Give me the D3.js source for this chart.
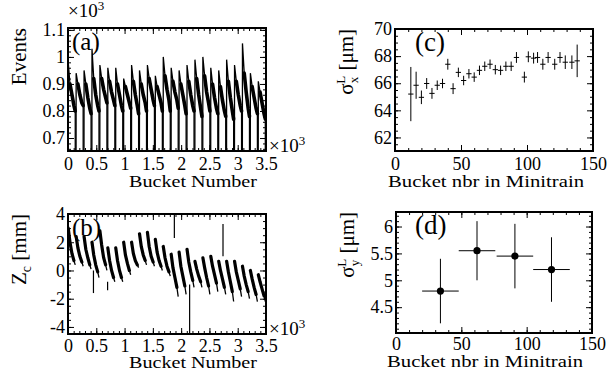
<!DOCTYPE html>
<html>
<head>
<meta charset="utf-8">
<script src="https://cdn.jsdelivr.net/npm/d3@7"></script>
<style>
  body { margin: 0; background: #fff; }
  text { font-family: "Liberation Serif", "Times New Roman", serif; fill: #000; }
</style>
</head>
<body>
<svg id="chart" width="611" height="372"></svg>
<script>
// ---- data ----
// (a) / (b): start bucket of each minitrain, values sampled at fixed offsets inside a train
const trainStart = [0, 140, 280, 420, 560, 700, 840, 980, 1120, 1260, 1400, 1540, 1680,
  1820, 1960, 2100, 2240, 2380, 2520, 2660, 2800, 2940, 3080, 3220, 3360];
const sampleOffset = [4, 35, 70, 105, 128];
// events (x10^3) in each train at the sample offsets
const events = [
  [0.98, 0.90, 0.86, 0.82, 0.80], [0.94, 0.90, 0.86, 0.83, 0.82], [0.95, 0.90, 0.85, 0.81, 0.79],
  [1.03, 0.92, 0.86, 0.82, 0.80], [0.97, 0.92, 0.88, 0.85, 0.83], [0.96, 0.91, 0.87, 0.84, 0.82],
  [0.96, 0.90, 0.86, 0.82, 0.80], [0.92, 0.89, 0.86, 0.83, 0.81], [0.97, 0.91, 0.86, 0.82, 0.79],
  [0.95, 0.90, 0.86, 0.83, 0.80], [0.97, 0.92, 0.88, 0.84, 0.82], [0.93, 0.89, 0.86, 0.83, 0.80],
  [1.00, 0.93, 0.88, 0.84, 0.80], [0.96, 0.91, 0.87, 0.84, 0.81], [0.95, 0.90, 0.86, 0.82, 0.79],
  [0.97, 0.91, 0.86, 0.82, 0.80], [0.99, 0.92, 0.86, 0.81, 0.78], [1.00, 0.93, 0.87, 0.83, 0.80],
  [0.96, 0.90, 0.85, 0.81, 0.79], [0.95, 0.89, 0.84, 0.80, 0.78], [0.99, 0.91, 0.85, 0.80, 0.77],
  [0.97, 0.91, 0.86, 0.82, 0.80], [1.05, 0.94, 0.87, 0.81, 0.78], [0.94, 0.89, 0.85, 0.81, 0.79],
  [0.91, 0.87, 0.83, 0.79, 0.77]
];
// Zc (mm) in each train at the sample offsets
const zc = [
  [3.0, 2.0, 1.2, 0.7, 0.4], [2.4, 1.6, 1.0, 0.6, 0.3], [2.4, 1.5, 0.9, 0.4, 0.1],
  [2.0, 1.1, 0.4, -0.1, -0.5], [2.8, 1.8, 0.9, 0.4, 0.0], [1.6, 0.7, 0.0, -0.5, -0.8],
  [1.6, 0.7, 0.0, -0.5, -0.8], [2.0, 1.1, 0.5, 0.0, -0.3], [2.0, 1.2, 0.7, 0.4, 0.2],
  [2.6, 1.7, 1.1, 0.7, 0.4], [2.7, 1.7, 1.0, 0.6, 0.3], [2.2, 1.3, 0.7, 0.3, 0.0],
  [1.7, 0.9, 0.3, -0.1, -0.4], [1.15, 0.2, -0.5, -1.2, -1.85], [1.3, 0.3, -0.4, -1.1, -1.7],
  [1.5, 0.6, -0.1, -0.7, -1.2], [0.65, 0.1, -0.4, -0.8, -1.2], [0.9, 0.2, -0.5, -1.1, -1.7],
  [1.0, 0.3, -0.3, -0.9, -1.5], [0.65, 0.0, -0.6, -1.2, -1.7], [0.65, -0.1, -0.8, -1.5, -2.2],
  [0.65, -0.1, -0.7, -1.3, -1.85], [0.3, -0.4, -1.0, -1.5, -2.0], [0.0, -0.6, -1.2, -1.7, -2.2],
  [-0.3, -0.8, -1.3, -1.8, -2.2]
];
// isolated spikes in Zc: [bucket, from, to]
const zcSpikes = [[450, 0.0, -1.6], [700, -0.8, -1.4], [1880, 2.3, 4.2], [2150, -1.0, -4.6], [2740, 1.0, 3.3]];

// (c) sigma_x^L: [bucket in minitrain, value, error]
const sigX = [
  [12, 65.2, 2.0], [16, 65.85, 1.0], [20, 64.96, 0.5], [24, 65.98, 0.4], [28, 65.25, 0.4],
  [32, 65.85, 0.35], [36, 65.98, 0.35], [40, 67.4, 0.4], [44, 65.6, 0.4], [48, 66.8, 0.35],
  [52, 66.2, 0.35], [56, 66.7, 0.35], [60, 66.45, 0.35], [64, 66.95, 0.35], [68, 67.25, 0.35],
  [72, 67.4, 0.35], [76, 67.0, 0.35], [80, 66.95, 0.35], [84, 67.25, 0.35], [88, 67.25, 0.35],
  [92, 67.9, 0.4], [98, 66.45, 0.4], [101, 67.95, 0.4], [105, 67.85, 0.4], [108, 67.9, 0.4],
  [112, 67.4, 0.4], [116, 67.9, 0.4], [121, 67.4, 0.4], [125, 67.9, 0.4], [129, 67.55, 0.5],
  [134, 67.55, 0.5], [138, 67.65, 1.2]
];
const sigXHalfWidth = 2;
// (d) sigma_y^L: [bucket, value, x half width, error]
const sigY = [[34, 4.8, 14, 0.6], [62, 5.55, 14, 0.55], [91, 5.45, 14, 0.6], [119, 5.2, 14, 0.6]];

const bucketTicks = [0, 500, 1000, 1500, 2000, 2500, 3000, 3500];
const eventTicks = [0.7, 0.8, 0.9, 1.0, 1.1];
const zcTicks = [-4, -2, 0, 2, 4];
const miniTicks = [0, 50, 100, 150];
const sigXTicks = [62, 64, 66, 68, 70];
const sigYTicks = [4.5, 5, 5.5, 6];

// ---- drawing ----
const svg = d3.select('#chart');
let clipId = 0;

function panel(o) {
  const x = d3.scaleLinear().domain(o.xd).range([o.l, o.r]);
  const y = d3.scaleLinear().domain(o.yd).range([o.b, o.t]);
  const g = svg.append('g');

  const axes = [
    [d3.axisBottom(x), o.b, 0, o.xTicks, o.xMinor, o.xFmt, o.xPad],
    [d3.axisTop(x), o.t, 0, o.xTicks, o.xMinor, null, 0],
    [d3.axisLeft(y), 0, o.l, o.yTicks, o.yMinor, o.yFmt, 3],
    [d3.axisRight(y), 0, o.r, o.yTicks, o.yMinor, null, 0]
  ];
  axes.forEach(([ax, ty, tx, ticks, minorStep, fmt, pad]) => {
    const [d0, d1] = ax.scale().domain();
    const minor = d3.range(Math.ceil(d0 / minorStep) * minorStep, d1 + 1e-9, minorStep);
    g.append('g').attr('transform', `translate(${tx},${ty})`)
      .call(ax.tickValues(minor).tickSize(-3).tickFormat(''))
      .call(s => s.select('.domain').remove());
    g.append('g').attr('class', 'major').attr('transform', `translate(${tx},${ty})`)
      .call(ax.tickValues(ticks).tickSize(-6).tickPadding(pad).tickFormat(fmt || ''))
      .call(s => s.select('.domain').remove());
  });
  g.selectAll('.tick line').attr('stroke', '#000').attr('stroke-width', 1);
  g.selectAll('.major text').attr('font-size', 18).attr('font-family', '"Liberation Serif", serif');

  g.append('rect').attr('x', o.l).attr('y', o.t).attr('width', o.r - o.l).attr('height', o.b - o.t)
    .attr('fill', 'none').attr('stroke', '#000').attr('stroke-width', 2);

  const id = 'clip' + (clipId++);
  svg.append('clipPath').attr('id', id).append('rect')
    .attr('x', o.l).attr('y', o.t).attr('width', o.r - o.l).attr('height', o.b - o.t);
  const plot = g.append('g').attr('clip-path', `url(#${id})`);

  // axis titles (ROOT style: flush with the end of the axis)
  g.append('text').attr('x', o.r - 9).attr('y', o.b + o.titleGap).attr('text-anchor', 'end')
    .attr('font-size', 17.5).attr('textLength', o.xTitleLen).attr('lengthAdjust', 'spacingAndGlyphs')
    .text(o.xTitle);
  const yt = g.append('text').attr('transform', `translate(${o.l - 42},${o.t}) rotate(-90)`)
    .attr('text-anchor', 'end').attr('font-size', 21);
  o.yTitle(yt);
  g.append('text').attr('x', o.l + o.tagDx).attr('y', o.t + 22).attr('font-size', o.tagSize).text(o.tag);
  return { x, y, g, plot };
}

function times10(g, xp, yp) {
  const t = g.append('text').attr('x', xp).attr('y', yp).attr('font-size', 19);
  t.append('tspan').text('\u00d710');
  t.append('tspan').attr('font-size', 13).attr('dy', -7).text('3');
}

const bucketFmt = d => String(d / 1000);
const last = sampleOffset.length - 1;

// (a)
const pa = panel({
  l: 68, r: 266, t: 28, b: 151, xd: [0, 3500], yd: [0.652, 1.107],
  xTicks: bucketTicks, xMinor: 100, yTicks: eventTicks, yMinor: 0.02,
  xFmt: bucketFmt, yFmt: d => String(+d.toFixed(1)), xPad: 6, titleGap: 36,
  xTitle: 'Bucket Number', xTitleLen: 128, tag: '(a)', tagDx: 4, tagSize: 25,
  yTitle: t => t.text('Events')
});
times10(pa.g, 68, 17);
times10(pa.g, 269, 152);
const lineA = d3.line().x(d => pa.x(d[0])).y(d => pa.y(d[1]));
trainStart.forEach((s, i) => {
  const pts = sampleOffset.map((off, k) => [s + off, events[i][k]]);
  // thin outline: rise from the empty gap, peak, fall back at the train end
  pa.plot.append('path').attr('d', lineA([[s, 0], ...pts, [s + sampleOffset[last] + 2, 0]]))
    .attr('fill', 'none').attr('stroke', '#000').attr('stroke-width', 1.3);
  // dense bucket-to-bucket scatter shows as a thick band along the body of the train
  pa.plot.append('path').attr('d', lineA(pts.slice(1)))
    .attr('fill', 'none').attr('stroke', '#000').attr('stroke-width', 3.6).attr('stroke-linecap', 'round');
});

// (b)
const pb = panel({
  l: 68, r: 266, t: 214, b: 334, xd: [0, 3500], yd: [-4.5, 4],
  xTicks: bucketTicks, xMinor: 100, yTicks: zcTicks, yMinor: 0.5,
  xFmt: bucketFmt, yFmt: d => String(d), xPad: 5, titleGap: 33.5,
  xTitle: 'Bucket Number', xTitleLen: 128, tag: '(b)', tagDx: 4, tagSize: 25,
  yTitle: t => {
    t.append('tspan').text('Z');
    t.append('tspan').attr('font-size', 14).attr('dy', 5).text('c');
    t.append('tspan').attr('dy', -5).text(' [mm]');
  }
});
times10(pb.g, 269, 335);
const lineB = d3.line().x(d => pb.x(d[0])).y(d => pb.y(d[1]));
trainStart.forEach((s, i) => {
  const pts = sampleOffset.map((off, k) => [s + off, zc[i][k]]);
  pb.plot.append('path').attr('d', lineB(pts)).attr('fill', 'none')
    .attr('stroke', '#000').attr('stroke-width', 1.3);
  pb.plot.append('path').attr('d', lineB(pts.slice(0, last))).attr('fill', 'none')
    .attr('stroke', '#000').attr('stroke-width', 3.2).attr('stroke-linecap', 'round');
});
zcSpikes.forEach(([bk, a, b]) => {
  pb.plot.append('line').attr('x1', pb.x(bk)).attr('x2', pb.x(bk))
    .attr('y1', pb.y(a)).attr('y2', pb.y(b)).attr('stroke', '#000').attr('stroke-width', 1.2);
});

function sigmaTitle(sub) {
  return t => {
    t.append('tspan').text('\u03c3');
    t.append('tspan').attr('font-size', 13).attr('dy', 5).text(sub);
    t.append('tspan').attr('font-size', 13).attr('dx', -7).attr('dy', -13).text('L');
    t.append('tspan').attr('dy', 8).text(' [\u03bcm]');
  };
}

// (c)
const pc = panel({
  l: 395, r: 593, t: 29, b: 151, xd: [0, 150], yd: [61, 70],
  xTicks: miniTicks, xMinor: 10, yTicks: sigXTicks, yMinor: 0.5,
  xFmt: d => String(d), yFmt: d => String(d), xPad: 6, titleGap: 36,
  xTitle: 'Bucket nbr in Minitrain', xTitleLen: 196, tag: '(c)', tagDx: 20, tagSize: 27,
  yTitle: sigmaTitle('x')
});
sigX.forEach(([bk, v, e]) => {
  pc.plot.append('line').attr('x1', pc.x(bk)).attr('x2', pc.x(bk))
    .attr('y1', pc.y(v - e)).attr('y2', pc.y(v + e)).attr('stroke', '#000').attr('stroke-width', 1);
  pc.plot.append('line').attr('x1', pc.x(bk - sigXHalfWidth)).attr('x2', pc.x(bk + sigXHalfWidth))
    .attr('y1', pc.y(v)).attr('y2', pc.y(v)).attr('stroke', '#000').attr('stroke-width', 1);
});

// (d)
const pd = panel({
  l: 396, r: 592, t: 212, b: 333, xd: [0, 150], yd: [4.02, 6.27],
  xTicks: miniTicks, xMinor: 10, yTicks: sigYTicks, yMinor: 0.1,
  xFmt: d => String(d), yFmt: d => String(d), xPad: 4, titleGap: 34,
  xTitle: 'Bucket nbr in Minitrain', xTitleLen: 196, tag: '(d)', tagDx: 19, tagSize: 27,
  yTitle: sigmaTitle('y')
});
sigY.forEach(([bk, v, w, e]) => {
  pd.plot.append('line').attr('x1', pd.x(bk)).attr('x2', pd.x(bk))
    .attr('y1', pd.y(v - e)).attr('y2', pd.y(v + e)).attr('stroke', '#000').attr('stroke-width', 1);
  pd.plot.append('line').attr('x1', pd.x(bk - w)).attr('x2', pd.x(bk + w))
    .attr('y1', pd.y(v)).attr('y2', pd.y(v)).attr('stroke', '#000').attr('stroke-width', 1);
  pd.plot.append('circle').attr('cx', pd.x(bk)).attr('cy', pd.y(v)).attr('r', 3.6).attr('fill', '#000');
});
</script>
</body>
</html>
